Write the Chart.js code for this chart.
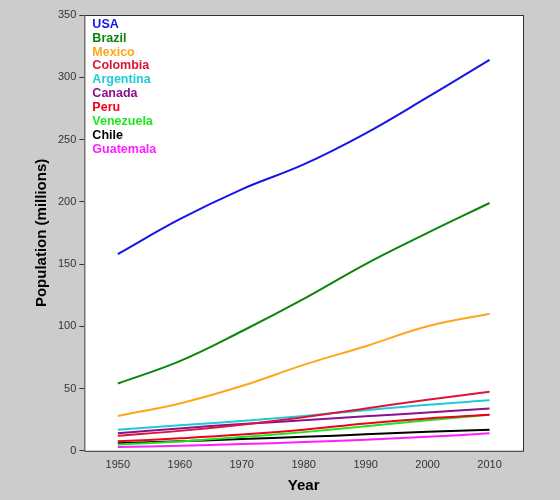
<!DOCTYPE html>
<html><head><script src="https://cdn.jsdelivr.net/npm/chart.js"></script>
<style>body{margin:0;background:#cccccc}#w{width:560px;height:500px}</style></head>
<body><div id="w"><canvas id="c"></canvas></div>
<script>
const years=[1950,1960,1970,1980,1990,2000,2010];
const names=["USA","Brazil","Mexico","Colombia","Argentina","Canada","Peru","Venezuela","Chile","Guatemala"];
const colors=["#1515e8","#0a850a","#ffa51a","#dc143c","#1ecbd6","#8b108b","#f0001e","#1ee61e","#000000","#ff1eff"];
const USA=[158,186,210,230,255,284,314];
const Brazil=[54,72,96,122,150,175,199];
const Mexico=[28,38,52,69,84,100,110];
const Colombia=[12,16,21,27,34,41,47.5];
const Argentina=[17,20.5,24,28,32.6,37,40.5];
const Canada=[14,18,21.5,24.5,27.7,30.7,34];
const Peru=[7.6,10,13,17,22,26,29];
const Venezuela=[5,7.5,11,15,19.7,24.5,29];
const Chile=[6,7.6,9.5,11.2,13.2,15.3,17];
const Guatemala=[3,4,5.4,7,8.9,11.2,14];
const series=[USA,Brazil,Mexico,Colombia,Argentina,Canada,Peru,Venezuela,Chile,Guatemala];
const legendPlugin={id:'lg',afterDatasetsDraw(ch){const c=ch.ctx,a=ch.chartArea;c.save();c.font='bold 12.5px "Liberation Sans",Arial';c.textBaseline='top';
names.forEach((n,i)=>{c.fillStyle=colors[i];c.fillText(n,a.left+8,a.top+3+i*13.9);});c.restore();}};
const bgPlugin={id:'bg',beforeDraw(ch){const c=ch.ctx,a=ch.chartArea;c.save();c.fillStyle='#fff';c.fillRect(a.left,a.top,a.right-a.left,a.bottom-a.top);c.restore();},
afterDraw(ch){const c=ch.ctx,a=ch.chartArea;c.save();c.strokeStyle='#333';c.lineWidth=1;c.strokeRect(a.left+0.5,a.top+0.5,a.right-a.left,a.bottom-a.top);c.restore();}};
new Chart(document.getElementById('c'),{type:'line',
data:{datasets:names.map((n,i)=>({label:n,data:years.map((y,j)=>({x:y,y:series[i][j]})),borderColor:colors[i],borderWidth:2,pointRadius:0,tension:0.4,fill:false}))},
options:{responsive:true,maintainAspectRatio:false,animation:false,
layout:{padding:{left:29,right:37,top:15,bottom:5}},
plugins:{legend:{display:false},tooltip:{enabled:false}},
scales:{x:{type:'linear',min:1944.6,max:2015.4,afterBuildTicks(ax){ax.ticks=years.map(v=>({value:v}));},
grid:{display:false,drawOnChartArea:false,drawTicks:true,tickLength:5,color:'#333'},border:{display:false},
ticks:{color:'#333',font:{size:11},callback:v=>String(v)},
title:{display:true,text:'Year',font:{size:15,weight:'bold'},color:'#000',padding:{top:2,bottom:0}}},
y:{min:0,max:350,ticks:{stepSize:50,color:'#333',font:{size:11}},
grid:{drawOnChartArea:false,drawTicks:true,tickLength:5,color:'#333'},border:{display:false},
title:{display:true,text:'Population (millions)',font:{size:15,weight:'bold'},color:'#000'}}}},
plugins:[bgPlugin,legendPlugin]});
</script></body></html>
